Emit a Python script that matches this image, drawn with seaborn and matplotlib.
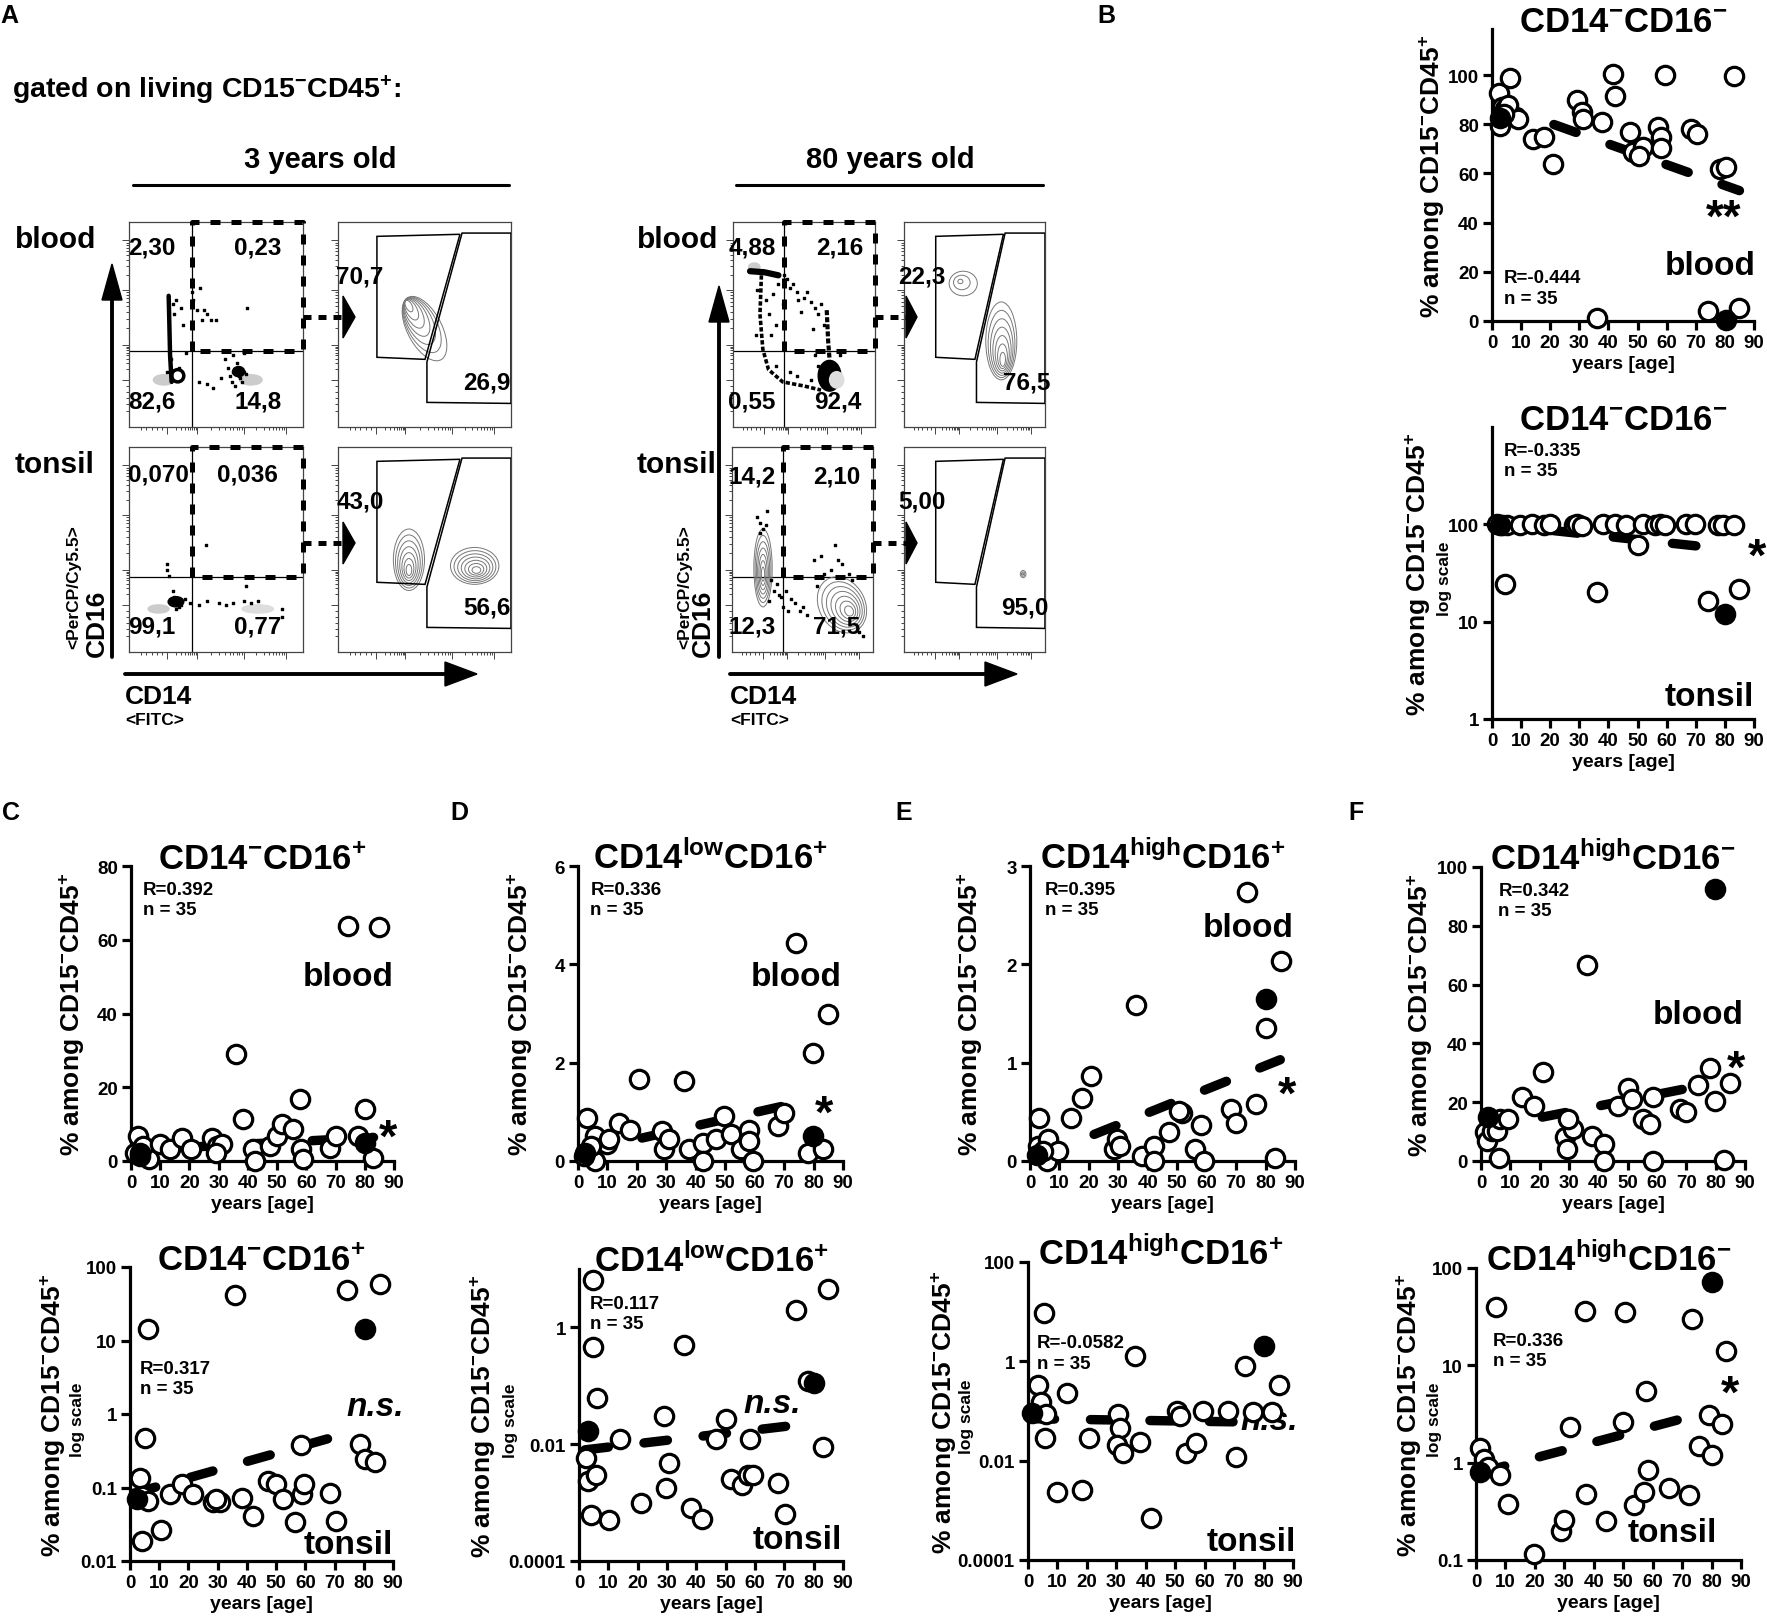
import numpy as np
import matplotlib
matplotlib.use("Agg")
import matplotlib.pyplot as plt
import seaborn as sns
from matplotlib.patches import Polygon, Ellipse
from matplotlib.ticker import NullLocator

# ====================== DATA ======================
# ---- Panel B : CD14-CD16- ----
B_blood_age = [2.3, 2.6, 3.5, 4.5, 6.3, 5.5, 9.1, 14.0, 17.7, 21.1, 29.1, 30.8, 31.3, 37.7, 36.0, 41.7, 42.2,
               47.4, 48.5, 52.0, 50.5, 57.0, 58.2, 58.0, 59.4, 68.5, 70.4, 74.2, 78.2, 80.5, 85.0, 83.3, 4.0]
B_blood_val = [92.6, 79.4, 87, 86, 98.8, 88, 82, 74, 74.6, 64, 90, 85, 82, 80.7, 1.4, 100.4, 91.6,
               77, 68.5, 70.6, 67, 79, 75, 70.5, 100, 78, 76, 4, 61.7, 62.4, 5.4, 99.5, 84]
B_blood_hl_age = [2.9, 80.5]
B_blood_hl_val = [82.6, 0.55]
B_blood_fit_x = [2, 85]
B_blood_fit_y = [88, 53]

B_tonsil_age = [1.7, 3.4, 5.1, 9.7, 13.7, 17.9, 20.0, 28.0, 29.1, 30.8, 38.2, 42.2, 46.2, 51.9, 55.9, 57.6,
                59.4, 66.8, 69.6, 77.6, 79.3, 83.3, 4.6, 36.0, 50.2, 74.2, 85.0]
B_tonsil_val = [100, 99, 98, 99, 100, 99, 100, 99, 100, 97, 100, 100, 99, 100, 98, 100,
                99, 100, 100, 99, 98, 99, 24.6, 20.4, 61.5, 16.2, 21.8]
B_tonsil_hl_age = [2.9, 80.1]
B_tonsil_hl_val = [99.1, 12.0]
B_tonsil_fit_x = [1, 82]
B_tonsil_fit_y = [100, 55]

# ---- Panel C : CD14-CD16+ ----
C_blood_age = [2.5, 1.4, 6, 3, 4.2, 10, 13.3, 17.3, 20.7, 27.6, 29.3, 31, 29, 36.1, 38.2, 41.8, 42.4, 47.5,
               49.8, 51.8, 55.5, 57.7, 58.3, 59, 68, 70, 74.3, 80, 77.7, 82.8, 85]
C_blood_val = [6.8, 2.3, 0.5, 1.4, 4, 4.5, 3.2, 6.3, 3.2, 6.3, 4.1, 4.5, 2.3, 28.9, 11.3, 3.2, 0, 4,
               6.8, 10, 8.6, 16.7, 3.2, 0.5, 3.6, 6.8, 63.7, 14, 6.8, 0.9, 63.5]
C_blood_hl_age = [3, 80]
C_blood_hl_val = [2.3, 4.9]
C_blood_fit_x = [1, 83]
C_blood_fit_y = [2.95, 6.4]

C_tonsil_age = [3.4, 5.1, 6.3, 4, 6.3, 4, 10.6, 13.7, 17.7, 21.4, 28.5, 30.8, 29.6, 35.9, 38.2, 42.1, 47.3,
                49.9, 52.4, 56.4, 58.7, 59.5, 58.4, 68.3, 70.4, 74.4, 78.6, 80.3, 83.7, 85.4]
C_tonsil_val = [0.133, 0.47, 14.2, 0.076, 0.066, 0.0187, 0.0265, 0.081, 0.111, 0.081, 0.063, 0.063, 0.069,
                42, 0.071, 0.041, 0.123, 0.111, 0.069, 0.034, 0.081, 0.111, 0.38, 0.085, 0.035, 49, 0.39,
                0.245, 0.22, 58]
C_tonsil_hl_age = [2.3, 80.3]
C_tonsil_hl_val = [0.07, 14.2]
C_tonsil_fit_x = [1, 78]
C_tonsil_fit_y = [0.083, 0.6]

# ---- Panel D : CD14lowCD16+ ----
D_blood_age = [3.1, 5.9, 5.9, 9.9, 10.5, 13.9, 17.8, 20.7, 28.6, 29.2, 30.9, 36, 37.7, 42.3, 42.3, 46.8,
               49.7, 52, 55.3, 58.2, 58.2, 59.3, 67.8, 70.1, 74, 79.8, 78, 83.2, 84.9, 2.0, 4.5]
D_blood_val = [0.88, 0.51, 0, 0.34, 0.44, 0.78, 0.64, 1.66, 0.61, 0.24, 0.44, 1.63, 0.24, 0.37, 0, 0.44,
               0.92, 0.54, 0.24, 0.64, 0.41, 0, 0.71, 0.98, 4.44, 2.2, 0.17, 0.24, 2.98, 0.1, 0.3]
D_blood_hl_age = [2.5, 79.8]
D_blood_hl_val = [0.16, 0.5]
D_blood_fit_x = [2, 78]
D_blood_fit_y = [0.2, 1.23]

D_tonsil_age = [4.8, 4.8, 6.1, 2.5, 3.1, 5.9, 4.2, 10.2, 13.9, 21, 29, 30.7, 29.8, 35.8, 38.3, 42, 46.6,
                50, 51.9, 55.7, 57.6, 59.3, 58.2, 67.8, 70.1, 73.9, 78.1, 83.2, 84.9]
D_tonsil_val = [6.6, 0.47, 0.061, 0.0058, 0.0023, 0.003, 0.00062, 0.00051, 0.0122, 0.001, 0.0305, 0.0047,
                0.0018, 0.5, 0.00081, 0.00052, 0.0122, 0.0268, 0.0025, 0.002, 0.003, 0.003, 0.0122, 0.0022,
                0.00065, 1.98, 0.121, 0.0091, 4.5]
D_tonsil_hl_age = [3.1, 80]
D_tonsil_hl_val = [0.0165, 0.11]
D_tonsil_fit_x = [2, 80]
D_tonsil_fit_y = [0.008, 0.023]

# ---- Panel E : CD14highCD16+ ----
E_blood_age = [3.2, 2.8, 6.2, 5.7, 9.6, 13.8, 17.6, 20.8, 28.4, 29.7, 30.6, 36.1, 38, 42, 42, 47.1, 51.6,
               50.5, 56, 58.1, 59, 68.1, 70.1, 73.8, 76.6, 80, 83.1, 85.1, 4.5]
E_blood_val = [0.44, 0.15, 0.22, 0.0, 0.1, 0.44, 0.64, 0.86, 0.12, 0.22, 0.15, 1.59, 0.05, 0.15, 0, 0.29,
               0.49, 0.51, 0.12, 0.37, 0, 0.53, 0.39, 2.74, 0.58, 1.35, 0.03, 2.03, 0.1]
E_blood_hl_age = [2.3, 80]
E_blood_hl_val = [0.06, 1.65]
E_blood_fit_x = [3, 85]
E_blood_fit_y = [0.045, 1.03]

E_tonsil_age = [5.4, 3.5, 4.5, 6.2, 5.8, 13.1, 10.0, 18.5, 20.8, 30.5, 31.3, 30.1, 32.4, 36.3, 38.2, 41.7,
                50.6, 51.7, 53.7, 57.1, 59.5, 68.0, 70.7, 73.7, 76.4, 83.0, 85.3]
E_tonsil_val = [9.5, 0.33, 0.15, 0.088, 0.028, 0.23, 0.0023, 0.0026, 0.028, 0.088, 0.046, 0.021, 0.014, 1.3,
                0.024, 0.0007, 0.1, 0.08, 0.014, 0.023, 0.1, 0.1, 0.012, 0.8, 0.095, 0.095, 0.33]
E_tonsil_hl_age = [1.5, 80.3]
E_tonsil_hl_val = [0.09, 2.0]
E_tonsil_fit_x = [1, 74]
E_tonsil_fit_y = [0.07, 0.06]

# ---- Panel F : CD14highCD16- ----
F_blood_age = [1.4, 1.9, 3.6, 5.3, 6.5, 9.3, 6.3, 13.9, 18.1, 21, 28.6, 29.2, 31.3, 29.8, 36, 38, 42, 42,
               46.8, 50.2, 51.4, 55.3, 57.6, 58.8, 58.8, 67.8, 69.9, 74.1, 78.1, 79.8, 82.8, 84.9]
F_blood_val = [9.7, 6.8, 10.2, 10.2, 14.2, 14.2, 1.1, 21.6, 18.8, 30.3, 8, 4, 10.8, 14.2, 66.5, 8.5, 5.7, 0,
               18.8, 25, 21, 14.2, 12.5, 21.6, 0, 17.6, 16.5, 26, 31.6, 20.5, 0.3, 26.4]
F_blood_hl_age = [2.5, 79.8]
F_blood_hl_val = [14.8, 92.4]
F_blood_fit_x = [1, 78]
F_blood_fit_y = [11.0, 26.2]

F_tonsil_age = [6.9, 1.5, 2.8, 4.2, 8.0, 11.0, 19.8, 29.0, 30.0, 32.0, 37.0, 37.5, 44.0, 50.0, 50.5, 53.8,
                57.0, 58.5, 57.6, 65.5, 72.5, 73.3, 75.6, 79.0, 80.0, 83.5, 85.0]
F_tonsil_val = [40.0, 1.4, 1.1, 0.9, 0.75, 0.38, 0.115, 0.2, 0.26, 2.3, 36.0, 0.48, 0.25, 2.6, 35.0, 0.37,
                0.5, 0.85, 5.5, 0.55, 0.46, 30.0, 1.5, 3.1, 1.2, 2.5, 13.9]
F_tonsil_hl_age = [1.5, 80]
F_tonsil_hl_val = [0.8, 72]
F_tonsil_fit_x = [2, 80]
F_tonsil_fit_y = [0.8, 3.4]

AGE_TICKS = [0, 10, 20, 30, 40, 50, 60, 70, 80, 90]

# ---- Panel A : flow cytometry gate percentages ----
A_quadrant_3y_blood = ["2,30", "0,23", "82,6", "14,8"]
A_quadrant_3y_tonsil = ["0,070", "0,036", "99,1", "0,77"]
A_quadrant_80y_blood = ["4,88", "2,16", "0,55", "92,4"]
A_quadrant_80y_tonsil = ["14,2", "2,10", "12,3", "71,5"]
A_sub_3y_blood = ["70,7", "26,9"]
A_sub_3y_tonsil = ["43,0", "56,6"]
A_sub_80y_blood = ["22,3", "76,5"]
A_sub_80y_tonsil = ["5,00", "95,0"]

# event dots (axes-fraction coordinates) drawn in the dot plots
b3_dot_x = [0.36, 0.37, 0.39, 0.41, 0.43, 0.45, 0.47, 0.42, 0.50, 0.68, 0.66, 0.60, 0.55, 0.40, 0.45, 0.48,
            0.53, 0.58, 0.60, 0.62, 0.64, 0.66, 0.59, 0.61, 0.63, 0.65, 0.67, 0.62, 0.64, 0.57, 0.27, 0.26,
            0.31, 0.30, 0.22, 0.24, 0.29, 0.25, 0.33]
b3_dot_y = [0.66, 0.62, 0.57, 0.68, 0.57, 0.55, 0.52, 0.52, 0.52, 0.58, 0.36, 0.35, 0.33, 0.22, 0.21, 0.19,
            0.24, 0.25, 0.27, 0.28, 0.29, 0.27, 0.22, 0.20, 0.25, 0.22, 0.26, 0.31, 0.24, 0.29, 0.62, 0.55,
            0.50, 0.58, 0.27, 0.33, 0.29, 0.60, 0.36]
b3_streak_x = [0.228, 0.232, 0.236, 0.245]
b3_streak_y = [0.64, 0.50, 0.35, 0.22]

b80_dot_x = [0.38, 0.42, 0.45, 0.50, 0.55, 0.58, 0.60, 0.62, 0.64, 0.46, 0.52, 0.40, 0.35, 0.30, 0.32, 0.56,
             0.58, 0.70, 0.75, 0.45, 0.40, 0.30, 0.55, 0.60, 0.28, 0.25, 0.27, 0.23, 0.17, 0.16, 0.36, 0.48]
b80_dot_y = [0.72, 0.70, 0.66, 0.63, 0.61, 0.58, 0.55, 0.60, 0.50, 0.62, 0.66, 0.68, 0.60, 0.50, 0.70, 0.48,
             0.35, 0.30, 0.35, 0.25, 0.27, 0.30, 0.23, 0.30, 0.65, 0.55, 0.45, 0.62, 0.67, 0.45, 0.74, 0.56]
b80_streak1_x = [0.12, 0.22, 0.32]
b80_streak1_y = [0.76, 0.755, 0.74]
b80_streak2_x = [0.20, 0.19, 0.21, 0.25, 0.35, 0.50, 0.62]
b80_streak2_y = [0.74, 0.55, 0.38, 0.28, 0.22, 0.20, 0.18]
b80_streak3_x = [0.66, 0.67, 0.68]
b80_streak3_y = [0.57, 0.42, 0.33]

t3_dot_x = [0.22, 0.22, 0.23, 0.44, 0.67, 0.88, 0.88, 0.26, 0.28, 0.30, 0.24, 0.27, 0.32, 0.35, 0.40, 0.45,
            0.52, 0.56, 0.60, 0.66, 0.70, 0.74, 0.25, 0.29]
t3_dot_y = [0.43, 0.40, 0.37, 0.52, 0.32, 0.21, 0.17, 0.27, 0.25, 0.23, 0.24, 0.21, 0.26, 0.24, 0.23, 0.25,
            0.24, 0.23, 0.24, 0.25, 0.24, 0.25, 0.30, 0.22]

t80_dot_x = [0.18, 0.20, 0.22, 0.24, 0.20, 0.25, 0.30, 0.33, 0.35, 0.38, 0.42, 0.45, 0.48, 0.50, 0.53, 0.40,
             0.36, 0.32, 0.26, 0.28, 0.60, 0.63, 0.73, 0.75, 0.78, 0.83, 0.85, 0.90, 0.93, 0.58, 0.65, 0.70]
t80_dot_y = [0.66, 0.63, 0.60, 0.62, 0.58, 0.69, 0.30, 0.28, 0.27, 0.30, 0.26, 0.24, 0.20, 0.22, 0.18, 0.20,
             0.22, 0.33, 0.25, 0.35, 0.32, 0.47, 0.52, 0.45, 0.43, 0.38, 0.35, 0.10, 0.08, 0.45, 0.38, 0.40]

# ====================== STYLE ======================
sns.set_theme(style="ticks")
BASE = ["Liberation Sans", "DejaVu Sans"]
NARROW = ["Liberation Sans Narrow", "Liberation Sans", "DejaVu Sans"]
plt.rcParams["font.family"] = BASE
plt.rcParams["font.weight"] = "bold"
plt.rcParams["text.color"] = "black"
plt.rcParams["axes.labelcolor"] = "black"
plt.rcParams["xtick.color"] = "black"
plt.rcParams["ytick.color"] = "black"
plt.rcParams["axes.edgecolor"] = "black"
plt.rcParams["mathtext.fontset"] = "custom"
plt.rcParams["mathtext.bf"] = "Liberation Sans:bold"
plt.rcParams["mathtext.rm"] = "Liberation Sans:bold"
plt.rcParams["mathtext.it"] = "Liberation Sans:bold:italic"
plt.rcParams["mathtext.default"] = "bf"

W, H = 1767, 1624
fig = plt.figure(figsize=(W / 100, H / 100), dpi=100)
fig.patch.set_facecolor("white")


def add_ax(L, T, R, B):
    return fig.add_axes([L / W, 1 - B / H, (R - L) / W, (B - T) / H])


def ftext(x, y, s, **kw):
    kw.setdefault("fontweight", "bold")
    kw.setdefault("color", "black")
    return fig.text(x / W, 1 - y / H, s, **kw)


YLAB = r"% among CD15$^{-}$CD45$^{+}$"


def scatter_panel(box, ylim, log, age_o, val_o, age_f, val_f, fx, fy, title, yt, ytl,
                  ylab_dx, logscale_dx, r_txt, r_xy, tissue, tissue_xy, sig, sig_xy, sig_size,
                  sig_style="normal"):
    L, T, R, B = box
    ax = add_ax(L, T, R, B)
    if log:
        ax.set_yscale("log")
    sns.lineplot(x=fx, y=fy, ax=ax, color="black", linewidth=6.8, zorder=3, legend=False)
    ln = ax.lines[-1]
    ln.set_linestyle((0, (2.5, 3.8)))
    ln.set_dash_capstyle("round")
    ln.set_solid_capstyle("round")
    sns.scatterplot(x=age_o, y=val_o, ax=ax, s=175, color="white", edgecolor="black",
                    linewidth=2.3, zorder=4, legend=False)
    sns.scatterplot(x=age_f, y=val_f, ax=ax, s=175, color="black", edgecolor="black",
                    linewidth=2.3, zorder=5, legend=False)
    for c in ax.collections:
        c.set_clip_on(False)
    ax.set_xlim(0, 90)
    ax.set_ylim(*ylim)
    ax.set_facecolor("none")
    for s in ["top", "right"]:
        ax.spines[s].set_visible(False)
    for s in ["left", "bottom"]:
        ax.spines[s].set_linewidth(2.3)
        ax.spines[s].set_color("black")
    ax.set_xticks(AGE_TICKS)
    ax.set_xticklabels([str(a) for a in AGE_TICKS], fontfamily=NARROW, fontweight="bold", fontsize=13.5)
    ax.set_yticks(yt)
    ax.set_yticklabels(ytl, fontfamily=NARROW, fontweight="bold", fontsize=13.5)
    ax.yaxis.set_minor_locator(NullLocator())
    ax.xaxis.set_minor_locator(NullLocator())
    ax.tick_params(length=6.5, width=2.3, pad=3, color="black", labelcolor="black")
    ax.set_xlabel("years [age]", fontsize=14, fontweight="bold", labelpad=3, color="black")
    ax.set_ylabel("")
    ax.grid(False)
    ftext((L + R) / 2, T + 2, title, ha="center", va="baseline", fontsize=25)
    ftext(L + ylab_dx, (T + B) / 2, YLAB, rotation=90, ha="center", va="center", fontsize=19)
    if logscale_dx is not None:
        ftext(L + logscale_dx, (T + B) / 2 + 5, "log scale", rotation=90, ha="center", va="center", fontsize=12.5)
    ax.text(r_xy[0], r_xy[1], r_txt, ha="left", va="top", fontsize=13.5, fontweight="bold",
            linespacing=1.25, color="black")
    ax.text(tissue_xy[0], tissue_xy[1], tissue, ha="right", va="center", fontsize=24, fontweight="bold",
            color="black")
    if sig:
        ax.text(sig_xy[0], sig_xy[1], sig, ha="center", va="center", fontsize=sig_size, fontweight="bold",
                fontstyle=sig_style, color="black")
    return ax


# ---------------- Panel B ----------------
scatter_panel((1492, 30, 1754, 322), (0, 118.7), False, B_blood_age, B_blood_val, B_blood_hl_age, B_blood_hl_val,
              B_blood_fit_x, B_blood_fit_y, r"CD14$^{-}$CD16$^{-}$", [0, 20, 40, 60, 80, 100],
              ["0", "20", "40", "60", "80", "100"], -60, None, "R=-0.444\nn = 35", (4, 21),
              "blood", (90.5, 22.5), "**", (79.5, 41.5), 33)
scatter_panel((1492, 428, 1754, 720), (1, 1000), True, B_tonsil_age, B_tonsil_val, B_tonsil_hl_age,
              B_tonsil_hl_val, B_tonsil_fit_x, B_tonsil_fit_y, r"CD14$^{-}$CD16$^{-}$", [1, 10, 100],
              ["1", "10", "100"], -74, -47, "R=-0.335\nn = 35", (4, 700),
              "tonsil", (90, 1.7), "*", (91, 45), 34)

# ---------------- Panel C ----------------
scatter_panel((131, 867, 394, 1162), (0, 80), False, C_blood_age, C_blood_val, C_blood_hl_age, C_blood_hl_val,
              C_blood_fit_x, C_blood_fit_y, r"CD14$^{-}$CD16$^{+}$", [0, 20, 40, 60, 80],
              ["0", "20", "40", "60", "80"], -59, None, "R=0.392\nn = 35", (4, 76),
              "blood", (90, 50), "*", (88, 6), 34)
scatter_panel((130, 1268, 393, 1562), (0.01, 100), True, C_tonsil_age, C_tonsil_val, C_tonsil_hl_age,
              C_tonsil_hl_val, C_tonsil_fit_x, C_tonsil_fit_y, r"CD14$^{-}$CD16$^{+}$",
              [0.01, 0.1, 1, 10, 100], ["0.01", "0.1", "1", "10", "100"], -77, -53,
              "R=0.317\nn = 35", (3.4, 5.5), "tonsil", (90, 0.017), "n.s.", (84, 1.25), 24, "italic")

# ---------------- Panel D ----------------
scatter_panel((578, 867, 843, 1162), (0, 6), False, D_blood_age, D_blood_val, D_blood_hl_age, D_blood_hl_val,
              D_blood_fit_x, D_blood_fit_y, r"CD14$^{low}$CD16$^{+}$", [0, 2, 4, 6],
              ["0", "2", "4", "6"], -58, None, "R=0.336\nn = 35", (4.2, 5.7),
              "blood", (89.5, 3.75), "*", (83.7, 0.95), 34)
scatter_panel((579, 1270, 843, 1562), (0.0001, 10), True, D_tonsil_age, D_tonsil_val, D_tonsil_hl_age,
              D_tonsil_hl_val, D_tonsil_fit_x, D_tonsil_fit_y, r"CD14$^{low}$CD16$^{+}$",
              [0.0001, 0.01, 1], ["0.0001", "0.01", "1"], -96, -69,
              "R=0.117\nn = 35", (3.6, 3.6), "tonsil", (89.5, 0.00023), "n.s.", (66, 0.05), 24, "italic")

# ---------------- Panel E ----------------
scatter_panel((1030, 867, 1295, 1162), (0, 3), False, E_blood_age, E_blood_val, E_blood_hl_age, E_blood_hl_val,
              E_blood_fit_x, E_blood_fit_y, r"CD14$^{high}$CD16$^{+}$", [0, 1, 2, 3],
              ["0", "1", "2", "3"], -60, None, "R=0.395\nn = 35", (5.1, 2.85),
              "blood", (89.7, 2.37), "*", (87.4, 0.66), 34)
scatter_panel((1028, 1263, 1293, 1561), (0.0001, 100), True, E_tonsil_age, E_tonsil_val, E_tonsil_hl_age,
              E_tonsil_hl_val, E_tonsil_fit_x, E_tonsil_fit_y, r"CD14$^{high}$CD16$^{+}$",
              [0.0001, 0.01, 1, 100], ["0.0001", "0.01", "1", "100"], -84, -61,
              "R=-0.0582\nn = 35", (3, 3.5), "tonsil", (91, 0.00024), "n.s.", (82, 0.063), 24, "italic")

# ---------------- Panel F ----------------
scatter_panel((1481, 868, 1745, 1162), (0, 100), False, F_blood_age, F_blood_val, F_blood_hl_age, F_blood_hl_val,
              F_blood_fit_x, F_blood_fit_y, r"CD14$^{high}$CD16$^{-}$", [0, 20, 40, 60, 80, 100],
              ["0", "20", "40", "60", "80", "100"], -61, None, "R=0.342\nn = 35", (5.9, 95),
              "blood", (89.7, 50), "*", (87, 31), 34)
scatter_panel((1476, 1269, 1741, 1561), (0.1, 100), True, F_tonsil_age, F_tonsil_val, F_tonsil_hl_age,
              F_tonsil_hl_val, F_tonsil_fit_x, F_tonsil_fit_y, r"CD14$^{high}$CD16$^{-}$",
              [0.1, 1, 10, 100], ["0.1", "1", "10", "100"], -67, -42,
              "R=0.336\nn = 35", (5.8, 22), "tonsil", (82, 0.19), "*", (86.4, 5.0), 34)

# ---------------- Panel A ----------------
FX_MAJ = [0.22, 0.39, 0.66, 0.90]
FY_MAJ = [0.23, 0.40, 0.67, 0.91]


def minor_ticks(majors):
    out = []
    for a, b in zip(majors[:-1], majors[1:]):
        out += [a + (b - a) * np.log10(k) for k in range(2, 10)]
    out += [majors[0] - 0.03 * k for k in range(1, 6)]
    return [v for v in out if 0 < v < 1]


GATE_LEFT = [(0.225, 0.93), (0.705, 0.94), (0.503, 0.33), (0.225, 0.34)]
GATE_RIGHT = [(0.717, 0.946), (1.0, 0.946), (1.0, 0.115), (0.514, 0.12), (0.514, 0.317)]


def flow_ax(box):
    ax = add_ax(*box)
    ax.set_xlim(0, 1)
    ax.set_ylim(0, 1)
    ax.set_facecolor("white")
    for s in ax.spines.values():
        s.set_linewidth(0.9)
        s.set_color("#444444")
    ax.set_xticks(FX_MAJ)
    ax.set_xticks(minor_ticks(FX_MAJ), minor=True)
    ax.set_yticks(FY_MAJ)
    ax.set_yticks(minor_ticks(FY_MAJ), minor=True)
    ax.tick_params(which="both", direction="out", labelbottom=False, labelleft=False, width=0.7, color="#444444",
                   top=False, right=False)
    ax.tick_params(which="major", length=5)
    ax.tick_params(which="minor", length=2.5)
    ax.grid(False)
    return ax


def dot_plot(box, vx, hy):
    ax = flow_ax(box)
    ax.plot([vx, vx], [0, 1], color="black", lw=0.9, zorder=2)
    ax.plot([0, 1], [hy, hy], color="black", lw=0.9, zorder=2)
    ax.plot([vx, vx, 1, 1, vx], [hy, 1, 1, hy, hy], color="black", lw=3.6, ls=(0, (2.0, 2.2)),
            clip_on=False, zorder=6, solid_capstyle="butt")
    return ax


def contour_plot(box):
    ax = flow_ax(box)
    ax.add_patch(Polygon(GATE_LEFT, closed=True, fill=False, ec="black", lw=1.1, zorder=3))
    ax.add_patch(Polygon(GATE_RIGHT, closed=True, fill=False, ec="black", lw=1.1, zorder=3))
    return ax


def contours(ax, c_out, c_in, w, h, ang, n=7):
    for i in range(n):
        t = i / (n - 1)
        sc = 1 - 0.82 * t
        cx = c_out[0] + (c_in[0] - c_out[0]) * t
        cy = c_out[1] + (c_in[1] - c_out[1]) * t
        ax.add_patch(Ellipse((cx, cy), w * sc, h * sc, angle=ang, fill=False, ec="#777777", lw=0.7, zorder=2))


# 3 years blood
ax = dot_plot((129, 223, 303, 428), 0.362, 0.371)
ax.add_patch(Ellipse((0.20, 0.23), 0.12, 0.05, color="#cccccc", zorder=1))
ax.add_patch(Ellipse((0.70, 0.23), 0.13, 0.05, color="#cccccc", zorder=1))
ax.plot(b3_streak_x, b3_streak_y, color="black", lw=3.2, zorder=3)
ax.add_patch(Ellipse((0.28, 0.25), 0.07, 0.06, fill=False, ec="black", lw=2.5, zorder=3))
ax.add_patch(Ellipse((0.63, 0.27), 0.07, 0.05, color="black", zorder=3))
ax.scatter(b3_dot_x, b3_dot_y, s=4, marker="s", color="black", zorder=3)
ax = contour_plot((338, 223, 511, 428))
contours(ax, (0.50, 0.48), (0.41, 0.59), 0.36, 0.19, -55)

# 3 years tonsil
ax = dot_plot((129, 448, 303, 653), 0.362, 0.366)
ax.add_patch(Ellipse((0.17, 0.21), 0.12, 0.04, color="#cccccc", zorder=1))
ax.add_patch(Ellipse((0.74, 0.21), 0.18, 0.04, color="#dddddd", zorder=1))
ax.add_patch(Ellipse((0.27, 0.245), 0.09, 0.05, color="black", zorder=3))
ax.scatter(t3_dot_x, t3_dot_y, s=4, marker="s", color="black", zorder=3)
ax = contour_plot((338, 448, 511, 653))
contours(ax, (0.41, 0.45), (0.41, 0.40), 0.18, 0.30, 0)
contours(ax, (0.79, 0.42), (0.80, 0.40), 0.28, 0.18, 0)

# 80 years blood
ax = dot_plot((733, 223, 875, 428), 0.359, 0.371)
ax.add_patch(Ellipse((0.15, 0.78), 0.08, 0.04, color="#cccccc", zorder=1))
ax.plot(b80_streak1_x, b80_streak1_y, color="black", lw=4.5, zorder=3)
ax.plot(b80_streak2_x, b80_streak2_y, color="black", lw=2.6, ls=(0, (1.2, 0.6)), zorder=3)
ax.plot(b80_streak3_x, b80_streak3_y, color="black", lw=3.0, ls=(0, (1.2, 0.5)), zorder=3)
ax.add_patch(Ellipse((0.68, 0.25), 0.16, 0.15, color="black", zorder=3))
ax.add_patch(Ellipse((0.73, 0.23), 0.10, 0.08, color="#dddddd", zorder=4))
ax.scatter(b80_dot_x, b80_dot_y, s=4, marker="s", color="black", zorder=3)
ax = contour_plot((904, 223, 1045, 428))
contours(ax, (0.42, 0.70), (0.40, 0.71), 0.20, 0.12, 0, n=3)
contours(ax, (0.69, 0.42), (0.70, 0.33), 0.22, 0.38, 0)

# 80 years tonsil
ax = dot_plot((732, 448, 873, 653), 0.362, 0.366)
contours(ax, (0.22, 0.41), (0.22, 0.38), 0.13, 0.38, 0)
contours(ax, (0.78, 0.23), (0.83, 0.20), 0.36, 0.26, -20)
ax.scatter(t80_dot_x, t80_dot_y, s=4, marker="s", color="black", zorder=3)
ax = contour_plot((904, 448, 1045, 653))
contours(ax, (0.845, 0.38), (0.845, 0.38), 0.04, 0.035, 0, n=3)

# overlay for annotations of panel A
ov = fig.add_axes([0, 0, 1, 1])
ov.set_xlim(0, W)
ov.set_ylim(H, 0)
ov.axis("off")
ov.patch.set_alpha(0)
ov.set_zorder(10)

for (x0, x1, yy, tipx) in [(303, 343, 318, 355), (303, 343, 544, 355), (875, 906, 318, 917), (873, 906, 544, 917)]:
    ov.plot([x0, x1], [yy, yy], color="black", lw=3.6, ls=(0, (1.6, 1.4)))
    ov.add_patch(Polygon([(x1, yy - 21), (tipx, yy), (x1, yy + 21)], closed=True, color="black"))

# big axis arrows
for (vx, ytop, ybot, hx0, hx1) in [(112, 265, 658, 125, 477), (719, 287, 658, 730, 1017)]:
    ov.plot([vx, vx], [ybot, ytop + 30], color="black", lw=2.8)
    ov.add_patch(Polygon([(vx - 10, ytop + 36), (vx, ytop), (vx + 10, ytop + 36)], closed=True, color="black"))
    ov.plot([hx0, hx1 - 28], [675, 675], color="black", lw=2.8)
    ov.add_patch(Polygon([(hx1 - 32, 663), (hx1, 675), (hx1 - 32, 687)], closed=True, color="black"))

TXT = dict(fontweight="bold", color="black")
ov.text(0, 16, "A", fontsize=18, va="center", ha="left", **TXT)
ov.text(1097, 16, "B", fontsize=18, va="center", ha="left", **TXT)
ov.text(2, 813, "C", fontsize=18, va="center", ha="left", **TXT)
ov.text(450, 813, "D", fontsize=18, va="center", ha="left", **TXT)
ov.text(895, 813, "E", fontsize=18, va="center", ha="left", **TXT)
ov.text(1348, 813, "F", fontsize=18, va="center", ha="left", **TXT)
ov.text(12, 90, r"gated on living CD15$^{-}$CD45$^{+}$:", fontsize=20.5, va="center", ha="left", **TXT)
ov.text(320, 160, "3 years old", fontsize=21, va="center", ha="center", **TXT)
ov.text(890, 160, "80 years old", fontsize=21, va="center", ha="center", **TXT)
ov.plot([133, 509], [186, 186], color="black", lw=2.2)
ov.plot([736, 1043], [186, 186], color="black", lw=2.2)
for xl, yl, txt in [(15, 240, "blood"), (15, 465, "tonsil"), (637, 240, "blood"), (637, 465, "tonsil")]:
    ov.text(xl, yl, txt, fontsize=21.5, va="center", ha="left", **TXT)

NUMF = dict(fontsize=17.5, va="center", ha="center", fontfamily=NARROW, **TXT)
for pos, labels in [
    ([(152, 248), (258, 248), (152, 402), (258, 402)], A_quadrant_3y_blood),
    ([(158, 475), (247, 475), (152, 627), (258, 627)], A_quadrant_3y_tonsil),
    ([(752, 248), (840, 248), (752, 402), (838, 402)], A_quadrant_80y_blood),
    ([(752, 477), (837, 477), (752, 627), (837, 627)], A_quadrant_80y_tonsil),
    ([(360, 277), (487, 383)], A_sub_3y_blood),
    ([(360, 502), (487, 608)], A_sub_3y_tonsil),
    ([(922, 277), (1027, 383)], A_sub_80y_blood),
    ([(922, 502), (1025, 608)], A_sub_80y_tonsil),
]:
    for (px, py), lab in zip(pos, labels):
        ov.text(px, py, lab, **NUMF)

for cx, px in [(97, 74), (703, 685)]:
    ov.text(cx, 623, "CD16", fontsize=19, rotation=90, va="center", ha="center", **TXT)
    ov.text(px, 587, "<PerCP/Cy5.5>", fontsize=12.5, rotation=90, va="center", ha="center", **TXT)
for lx in [125, 730]:
    ov.text(lx, 697, "CD14", fontsize=19, va="center", ha="left", **TXT)
    ov.text(lx, 721, "<FITC>", fontsize=12.5, va="center", ha="left", **TXT)

fig.savefig("out.png", dpi=100, facecolor="white")
